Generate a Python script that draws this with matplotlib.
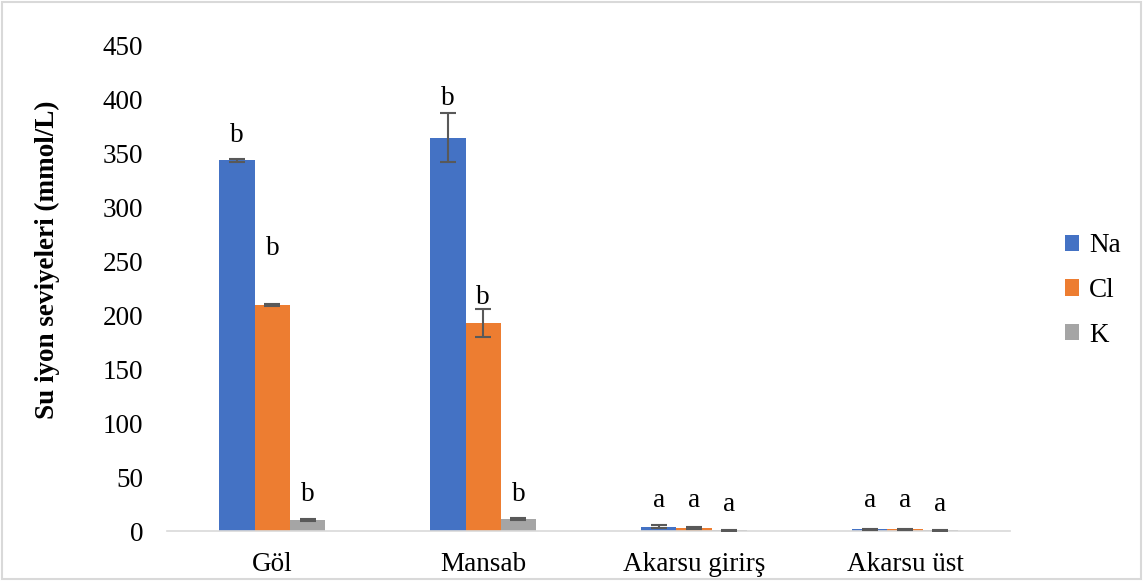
import numpy as np
import matplotlib.pyplot as plt

plt.rcParams['font.family'] = ['Liberation Serif', 'DejaVu Serif']

# ion levels per site (mmol/L), with standard errors
sites = ['Göl', 'Mansab', 'Akarsu girirş', 'Akarsu üst']
ions = ['Na', 'Cl', 'K']
na = [344, 365, 4.0, 1.5]
cl = [210, 193, 2.5, 1.5]
k = [10.5, 11, 0.6, 0.5]
na_err = [1.5, 23, 1.5, 0.5]
cl_err = [1.0, 13, 0.8, 0.5]
k_err = [0.8, 1.0, 0.3, 0.2]

# significance letters and the heights they sit at
na_letters = ['b', 'b', 'a', 'a']
cl_letters = ['b', 'b', 'a', 'a']
k_letters = ['b', 'b', 'a', 'a']
na_letter_y = [367, 401, 28, 28]
cl_letter_y = [262, 217, 28, 28]
k_letter_y = [34, 34, 25, 25]

colors = ['#4472C4', '#ED7D31', '#A5A5A5']
fs = 19.5

fig = plt.figure(figsize=(11.43, 5.81), dpi=100)
ax = fig.add_axes([0.146, 0.086, 0.738, 0.835])

x = np.arange(len(sites))
w = 0.167
series = [(na, na_err, na_letters, na_letter_y),
          (cl, cl_err, cl_letters, cl_letter_y),
          (k, k_err, k_letters, k_letter_y)]
for i, (vals, errs, letters, ly) in enumerate(series):
    pos = x + (i - 1) * w
    ax.bar(pos, vals, w, color=colors[i], label=ions[i], zorder=2)
    ax.errorbar(pos, vals, yerr=errs, fmt='none', ecolor='#595959',
                elinewidth=1.5, capsize=6, capthick=1.5, zorder=3)
    for px, lab, yy in zip(pos, letters, ly):
        ax.text(px, yy, lab, ha='center', va='center', fontsize=fs)

ax.set_xlim(-0.5, len(sites) - 0.5)
ax.set_ylim(0, 450)
ax.set_yticks(np.arange(0, 451, 50))
ax.set_xticks(x)
ax.set_xticklabels(sites)
ax.tick_params(axis='both', length=0, labelsize=fs)
ax.tick_params(axis='y', pad=17)
ax.tick_params(axis='x', pad=15)
for s in ['left', 'right', 'top']:
    ax.spines[s].set_visible(False)
ax.spines['bottom'].set_color('#D9D9D9')
ax.spines['bottom'].set_linewidth(1.2)

ax.set_ylabel('Su iyon seviyeleri (mmol/L)', fontsize=fs, fontweight='bold')
ax.yaxis.set_label_coords(-0.127, 0.56)

fig.legend(loc='center left', bbox_to_anchor=(0.91, 0.5), frameon=False,
           fontsize=fs, handlelength=0.55, handleheight=0.55, handletextpad=0.35,
           labelspacing=0.72)

# thin frame round the figure
fig.patches.append(plt.Rectangle((0.002, 0.003), 0.996, 0.994, transform=fig.transFigure,
                                 fill=False, edgecolor='#D9D9D9', linewidth=1.5))

fig.savefig('out.png', dpi=100)
